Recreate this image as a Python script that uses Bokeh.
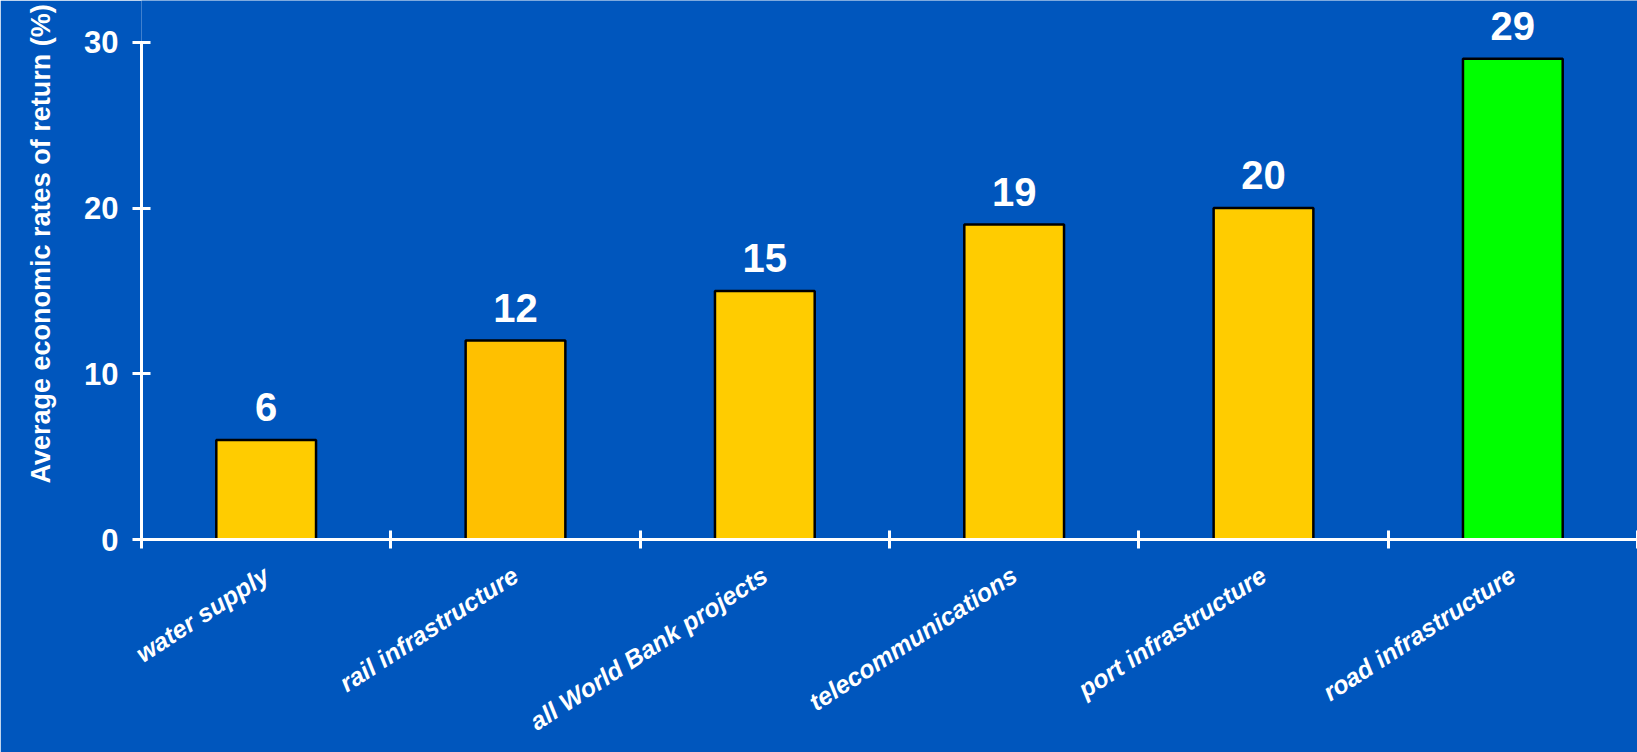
import math
from bokeh.plotting import figure
from bokeh.models import Range1d, LinearAxis, FixedTicker, ColumnDataSource, Title
from bokeh.core.properties import value
from bokeh.embed import file_html
from bokeh.resources import INLINE

# ---- data ----
categories = ["water supply", "rail infrastructure", "all World Bank projects",
              "telecommunications", "port infrastructure", "road infrastructure"]
returns = [6, 12, 15, 19, 20, 29]
bar_colors = ["#FFCC00", "#FFC000", "#FFCC00", "#FFCC00", "#FFCC00", "#00FF00"]
y_ticks = [0, 10, 20, 30]
value_labels = [str(v) for v in returns]
y_title = "Average economic rates of return (%)"

BG = "#0056BD"
FONT = "Liberation Sans"
W, H = 1637, 752

n = len(categories)
slot_centers = [i + 0.5 for i in range(n)]      # category slot centres
slot_edges = list(range(n + 1))                  # category slot boundaries

src = ColumnDataSource(dict(x=slot_centers, val=returns, color=bar_colors, label=value_labels))

p = figure(width=W, height=H, x_range=Range1d(0, n), y_range=Range1d(0, 32.52),
           output_backend="svg", toolbar_location=None, x_axis_type=None, y_axis_type=None,
           min_border_left=141, min_border_right=0, min_border_top=0, min_border_bottom=213)
p.background_fill_color = BG
p.border_fill_color = BG
p.outline_line_color = None

p.vbar(x="x", top="val", width=0.4, source=src, fill_color="color",
       line_color="black", line_width=2.5)
p.text(x="x", y="val", text="label", source=src, y_offset=-33,
       text_align="center", text_baseline="alphabetic", text_color="white",
       text_font=value(FONT), text_font_style="bold", text_font_size="40px")

# y axis
yaxis = LinearAxis(ticker=FixedTicker(ticks=y_ticks), bounds=(0, 30))
yaxis.axis_line_color = "white"
yaxis.axis_line_width = 3
yaxis.major_tick_line_color = "white"
yaxis.major_tick_line_width = 3
yaxis.major_tick_in = 9
yaxis.major_tick_out = 9
yaxis.minor_tick_line_color = None
yaxis.major_label_text_color = "white"
yaxis.major_label_text_font = FONT
yaxis.major_label_text_font_style = "bold"
yaxis.major_label_text_font_size = "31px"
yaxis.major_label_standoff = 14
p.add_layout(yaxis, "left")

# y axis title in the left margin
ytitle = Title(text=y_title, align="left", offset=56, standoff=47, vertical_align="top",
               text_color="white", text_font=FONT, text_font_style="bold",
               text_font_size="27px")
p.add_layout(ytitle, "left")

# x axis: boundary ticks + centred category labels
xaxis = LinearAxis(ticker=FixedTicker(ticks=slot_centers, minor_ticks=slot_edges),
                   major_label_overrides={c: lab for c, lab in zip(slot_centers, categories)})
xaxis.axis_line_color = "white"
xaxis.axis_line_width = 3
xaxis.major_tick_line_color = None
xaxis.minor_tick_line_color = "white"
xaxis.minor_tick_line_width = 3
xaxis.minor_tick_in = 9
xaxis.minor_tick_out = 9
xaxis.major_tick_out = 9
xaxis.major_label_orientation = math.radians(33)
xaxis.major_label_standoff = 24
xaxis.major_label_text_color = "white"
xaxis.major_label_text_font = FONT
xaxis.major_label_text_font_style = "bold italic"
xaxis.major_label_text_font_size = "25px"
p.add_layout(xaxis, "below")

open("out.html", "w").write(file_html(p, INLINE))
